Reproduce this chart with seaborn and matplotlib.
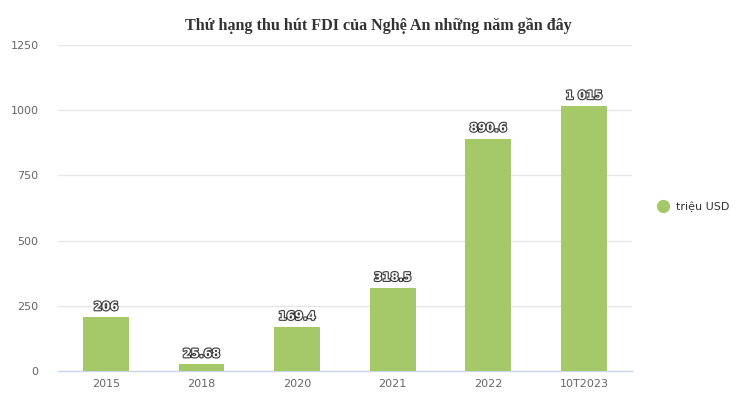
import pandas as pd
import matplotlib.pyplot as plt
import matplotlib.patheffects as pe
import seaborn as sns
from matplotlib.lines import Line2D

# Data
years = ['2015', '2018', '2020', '2021', '2022', '10T2023']
fdi = [206, 25.68, 169.4, 318.5, 890.6, 1015]
labels = ['206', '25.68', '169.4', '318.5', '890.6', '1 015']

df = pd.DataFrame({'year': years, 'fdi': fdi})

sns.set_theme(style='white')
plt.rcParams['font.family'] = ['DejaVu Sans']

fig = plt.figure(figsize=(7.45, 3.94), dpi=100)
ax = fig.add_axes([0.078, 0.058, 0.770, 0.828])

bar_color = '#a5c969'
sns.barplot(data=df, x='year', y='fdi', color=bar_color, width=0.48,
            saturation=1, linewidth=0, ax=ax, zorder=3)

ax.set_ylim(0, 1250)
ax.set_yticks([0, 250, 500, 750, 1000, 1250])
ax.yaxis.grid(True, color='#e6e6e6', linewidth=0.9, zorder=0)
ax.set_axisbelow(True)
for s in ['top', 'right', 'left']:
    ax.spines[s].set_visible(False)
ax.spines['bottom'].set_color('#ccd6eb')
ax.spines['bottom'].set_linewidth(1)
ax.tick_params(axis='both', length=0, labelsize=8, labelcolor='#666666')
ax.tick_params(axis='y', pad=14)
ax.tick_params(axis='x', pad=6)
ax.set_xlabel('')
ax.set_ylabel('')

# Data labels above bars
for i, (v, t) in enumerate(zip(fdi, labels)):
    ax.annotate(t, (i, v), xytext=(0, 3), textcoords='offset points',
                ha='center', va='bottom', fontsize=8.5, fontweight='bold',
                color='#fafafa',
                path_effects=[pe.withStroke(linewidth=1.6, foreground='#3a3a3a')])

fig.text(0.508, 0.935, 'Thứ hạng thu hút FDI của Nghệ An những năm gần đây',
         ha='center', va='center', fontsize=11.6, fontweight='bold',
         family='Liberation Serif', color='#333333')

handle = Line2D([], [], marker='o', linestyle='', markersize=8.5,
                color=bar_color)
fig.legend([handle], ['triệu USD'], loc='center left',
           bbox_to_anchor=(0.862, 0.475), frameon=False, fontsize=8,
           handletextpad=0.15, labelcolor='#333333')

fig.savefig('out.png', dpi=100, facecolor='white')
